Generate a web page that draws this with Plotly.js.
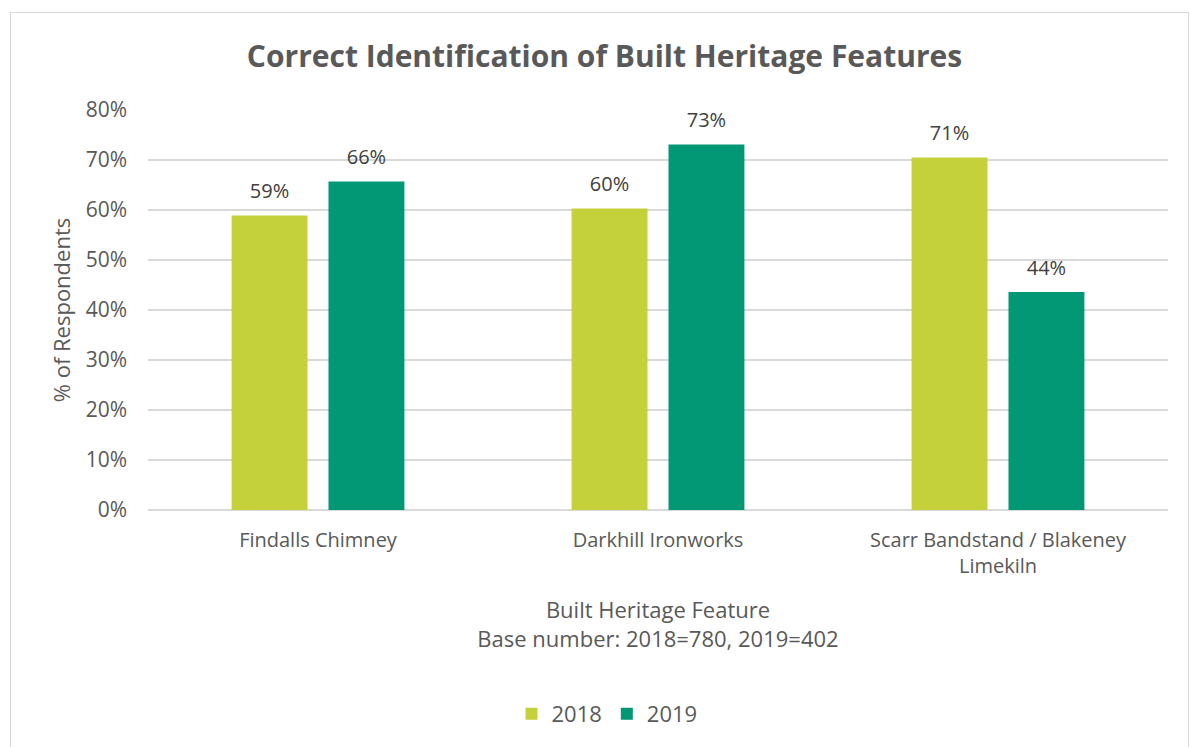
<!DOCTYPE html>
<html>
<head>
<meta charset="utf-8">
<script src="https://cdn.plot.ly/plotly-3.0.1.min.js"></script>
<style>
html,body{margin:0;padding:0;background:#fff;}
#wrap{position:relative;width:1190px;height:747px;}
#chart{position:absolute;left:0;top:0;width:1190px;height:747px;}
#frame{position:absolute;left:10px;top:12px;width:1177px;height:745px;border:1px solid #d9d9d9;pointer-events:none;}
</style>
</head>
<body>
<div id="wrap"><div id="chart"></div><div id="frame"></div></div>
<script>
const categories = ["Findalls Chimney", "Darkhill Ironworks", "Scarr Bandstand / Blakeney<br>Limekiln"];
const values2018 = [0.589, 0.603, 0.705];
const values2019 = [0.657, 0.731, 0.436];
const seriesNames = ["2018", "2019"];
const seriesColors = ["#C4D13B", "#029775"];
const yTicks = [0, 0.1, 0.2, 0.3, 0.4, 0.5, 0.6, 0.7, 0.8];

const FONT = "Open Sans, Noto Sans, sans-serif";
const seriesValues = [values2018, values2019];
const traces = [];
seriesValues.forEach((vals, i) => {
  traces.push({type:"bar", name:seriesNames[i], x:categories, y:vals,
    marker:{color:seriesColors[i]}, hoverinfo:"skip"});
});
seriesValues.forEach((vals, i) => {
  traces.push({type:"scatter", mode:"markers+text", name:seriesNames[i]+" labels", showlegend:false,
    x:categories, y:vals, texttemplate:"%{y:.0%}", textposition:"top center",
    marker:{size:18, opacity:0, color:seriesColors[i]},
    textfont:{size:20, color:"#404040", family:FONT}, cliponaxis:false, hoverinfo:"skip"});
});

const layout = {
  width:1190, height:747,
  margin:{l:148, r:22, t:110, b:235},
  paper_bgcolor:"#ffffff", plot_bgcolor:"#ffffff",
  font:{family:FONT, color:"#595959", size:20},
  title:{text:"<b>Correct Identification of Built Heritage Features</b>",
         font:{size:30, color:"#595959", family:FONT},
         x:0.508, xref:"container", xanchor:"center", y:0.925, yref:"container", yanchor:"middle"},
  barmode:"group", bargap:0.43, bargroupgap:0.2165,
  scattermode:"group", scattergap:0.43,
  xaxis:{type:"category", showgrid:false, showline:false, zeroline:false,
         tickfont:{size:20, color:"#595959"}, ticks:"", ticklabelstandoff:16,
         title:{text:"Built Heritage Feature<br>Base number: 2018=780, 2019=402",
                font:{size:22, color:"#595959"}, standoff:24}},
  yaxis:{range:[0,0.8], tickvals:yTicks, tickformat:".0%",
         showgrid:true, gridcolor:"#d9d9d9", gridwidth:1.5,
         zeroline:true, zerolinecolor:"#d9d9d9", zerolinewidth:1.5,
         showline:false, ticks:"", ticklabelstandoff:20,
         tickfont:{size:21, color:"#595959"},
         title:{text:"% of Respondents", font:{size:22, color:"#595959"}, standoff:8}},
  showlegend:true,
  legend:{orientation:"h", x:0.45, xanchor:"center", y:-0.51, yanchor:"middle",
          font:{size:22, color:"#595959"}, traceorder:"normal", itemwidth:30}
};

Plotly.newPlot("chart", traces, layout, {displayModeBar:false, staticPlot:true});
</script>
</body>
</html>
